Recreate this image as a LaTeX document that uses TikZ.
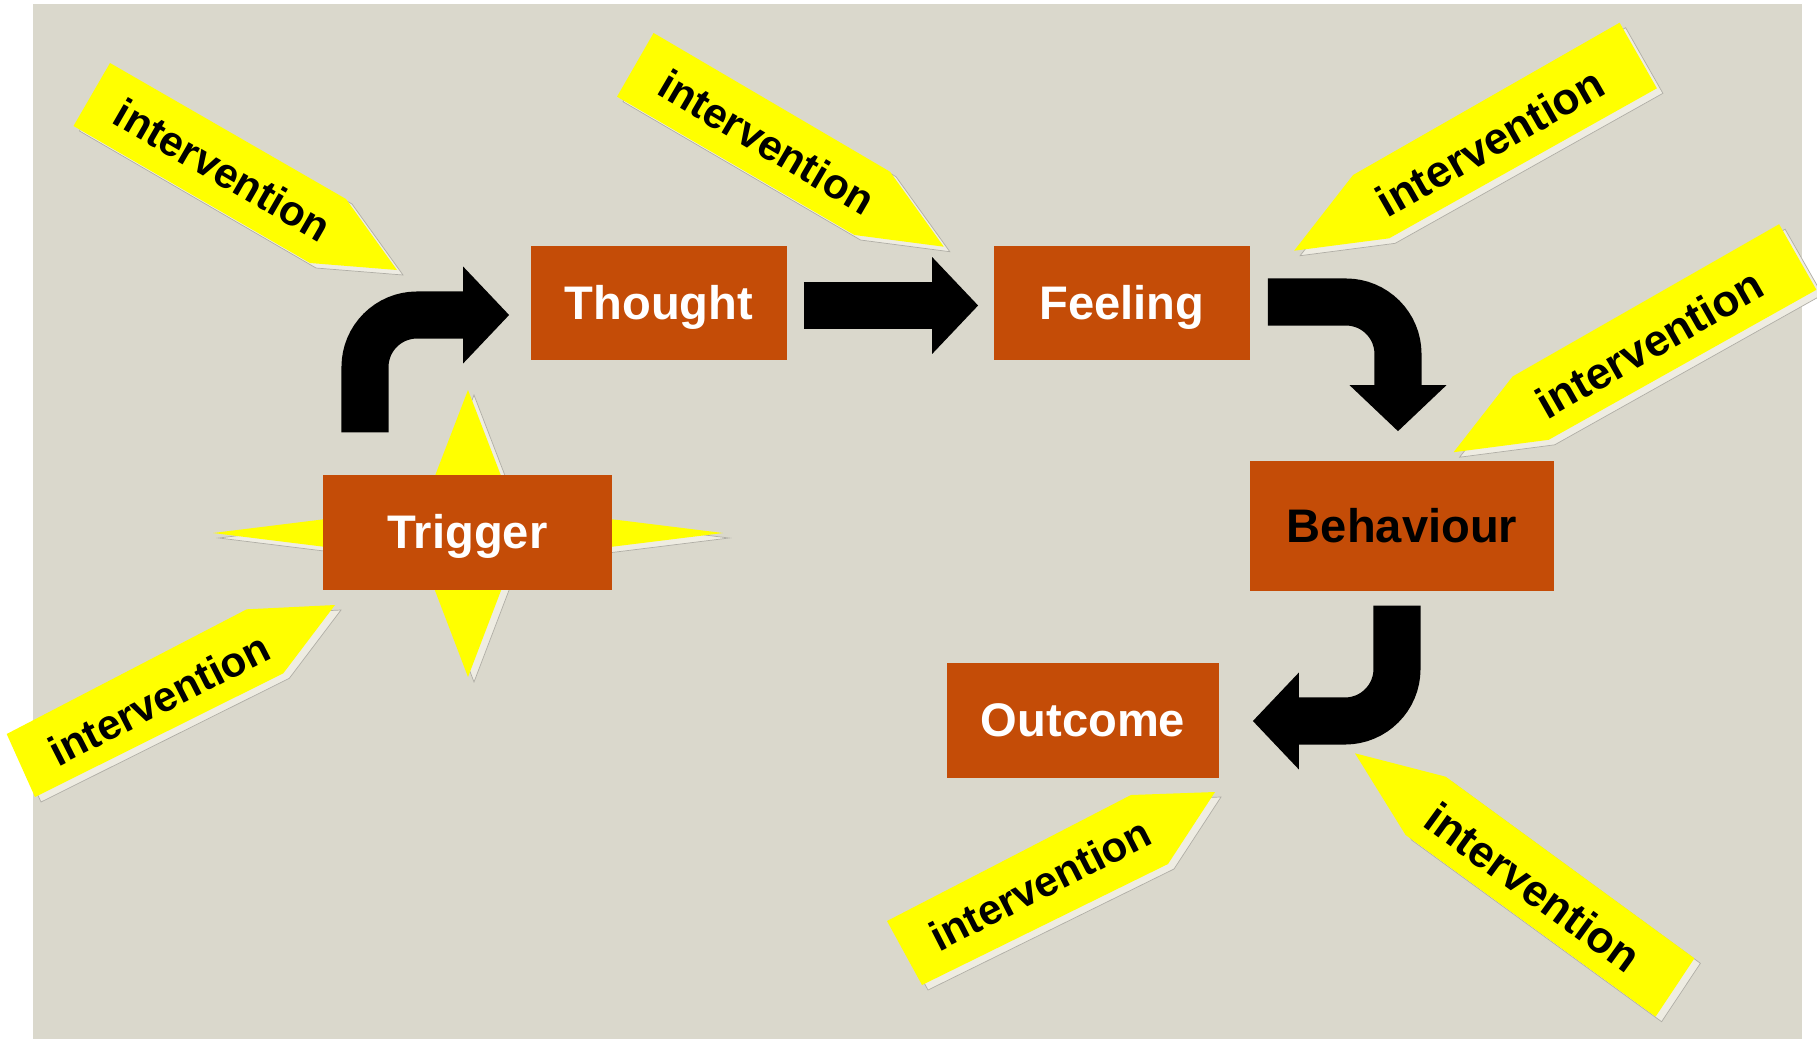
\documentclass[tikz,border=0pt]{standalone}
\usepackage{fontspec}
\setmainfont{Liberation Sans}
\usetikzlibrary{arrows.meta,calc}
\definecolor{rust}{RGB}{196,76,7}
\definecolor{stone}{RGB}{218,216,204}
\definecolor{sunny}{RGB}{255,255,0}
\definecolor{cream}{RGB}{238,236,226}
\definecolor{edge}{RGB}{176,174,166}

\begin{document}
\begin{tikzpicture}[x=0.01cm,y=-0.01cm,
  stage/.style={fill=rust,text=white,font=\fontsize{13.4}{16}\selectfont\bfseries,
    text height=12.1pt,text depth=2.8pt,
    inner sep=0pt,minimum width=2.56cm,minimum height=1.14cm},
  flow/.style={line width=0.47cm,rounded corners=0.52cm,
    -{Triangle[length=0.46cm,width=0.94cm]}},
  band/.style={fill=sunny,preaction={fill=cream,draw=edge,very thin,
    transform canvas={shift={(0.06cm,-0.05cm)}}}},
  tag/.style={font=\fontsize{12}{14}\selectfont\bfseries},
  bigtag/.style={font=\fontsize{12.6}{15}\selectfont\bfseries}]
\useasboundingbox (0,0) rectangle (1817,1039);
\fill[white] (0,0) rectangle (1817,1039);
\fill[stone] (33,4) rectangle (1802,1039);

% star behind the trigger
\begin{scope}[shift={(468,533)}]
  \path[band] (0,-143) -- (45,-26) -- (255,0) -- (45,26) -- (0,144)
    -- (-45,26) -- (-255,0) -- (-45,-26) -- cycle;
\end{scope}

% intervention tags
\path[band] (110,63) -- (346,199) -- (397,270) -- (310,263) -- (73.5,126) -- cycle;
\node[tag,rotate=-30] (int1) at (223,170) {intervention};

\path[band] (653.6,33) -- (890,171.7) -- (943.8,246.7) -- (854.5,235) -- (617,96.7) -- cycle;
\node[tag,rotate=-30.4] (int2) at (767,142) {intervention};

\path[band] (1619.6,22.7) -- (1656.9,88.3) -- (1389.2,238.3) -- (1294.1,250.7)
  -- (1353.1,175) -- cycle;
\node[bigtag,rotate=29.7] (int3) at (1490,142) {intervention};

\path[band] (1779.1,224.2) -- (1816.4,289.8) -- (1548.7,439.8) -- (1453.6,452.2)
  -- (1512.6,376.5) -- cycle;
\node[bigtag,rotate=29.7] (int4) at (1649.5,343.5) {intervention};

\path[band] (887,921) -- (1131,795) -- (1215,792) -- (1168,864) -- (922,985) -- cycle;
\node[tag,rotate=27] (int5) at (1040,884) {intervention};

\path[band] (1355,753.3) -- (1445.7,776.7) -- (1694.4,958.3) -- (1655.6,1016.7)
  -- (1405.6,835) -- cycle;
\node[bigtag,rotate=-36] (int6) at (1533,887) {intervention};

\path[band] (6.7,734) -- (246.7,609.3) -- (335,605) -- (283.3,673.3) -- (35,797) -- cycle;
\node[tag,rotate=27] (int7) at (159,699) {intervention};

% stages
\node[stage,minimum width=2.89cm,minimum height=1.15cm] (trigger) at (467.5,532.5) {Trigger};
\node[stage] (thought) at (659,303) {Thought};
\node[stage] (feeling) at (1122,303) {Feeling};
\node[stage,text=black,minimum width=3.04cm,minimum height=1.3cm]
  (behaviour) at (1402,526) {Behaviour};
\node[stage,minimum width=2.72cm,minimum height=1.15cm] (outcome) at (1083,720.5) {Outcome};

% flow arrows
\draw[flow] ($(trigger.north)+(-102.5,-42)$) |- ($(thought.west)+(-21,12)$);
\draw[flow] ($(thought.east)+(16,2.5)$) -- ($(feeling.west)+(-15,2.5)$);
\draw[flow] ($(feeling.east)+(17,-1)$) -| ($(behaviour.north)+(-4,-29)$);
\draw[flow] ($(behaviour.south)+(-5,14)$) |- ($(outcome.east)+(33,0.5)$);
\end{tikzpicture}
\end{document}
